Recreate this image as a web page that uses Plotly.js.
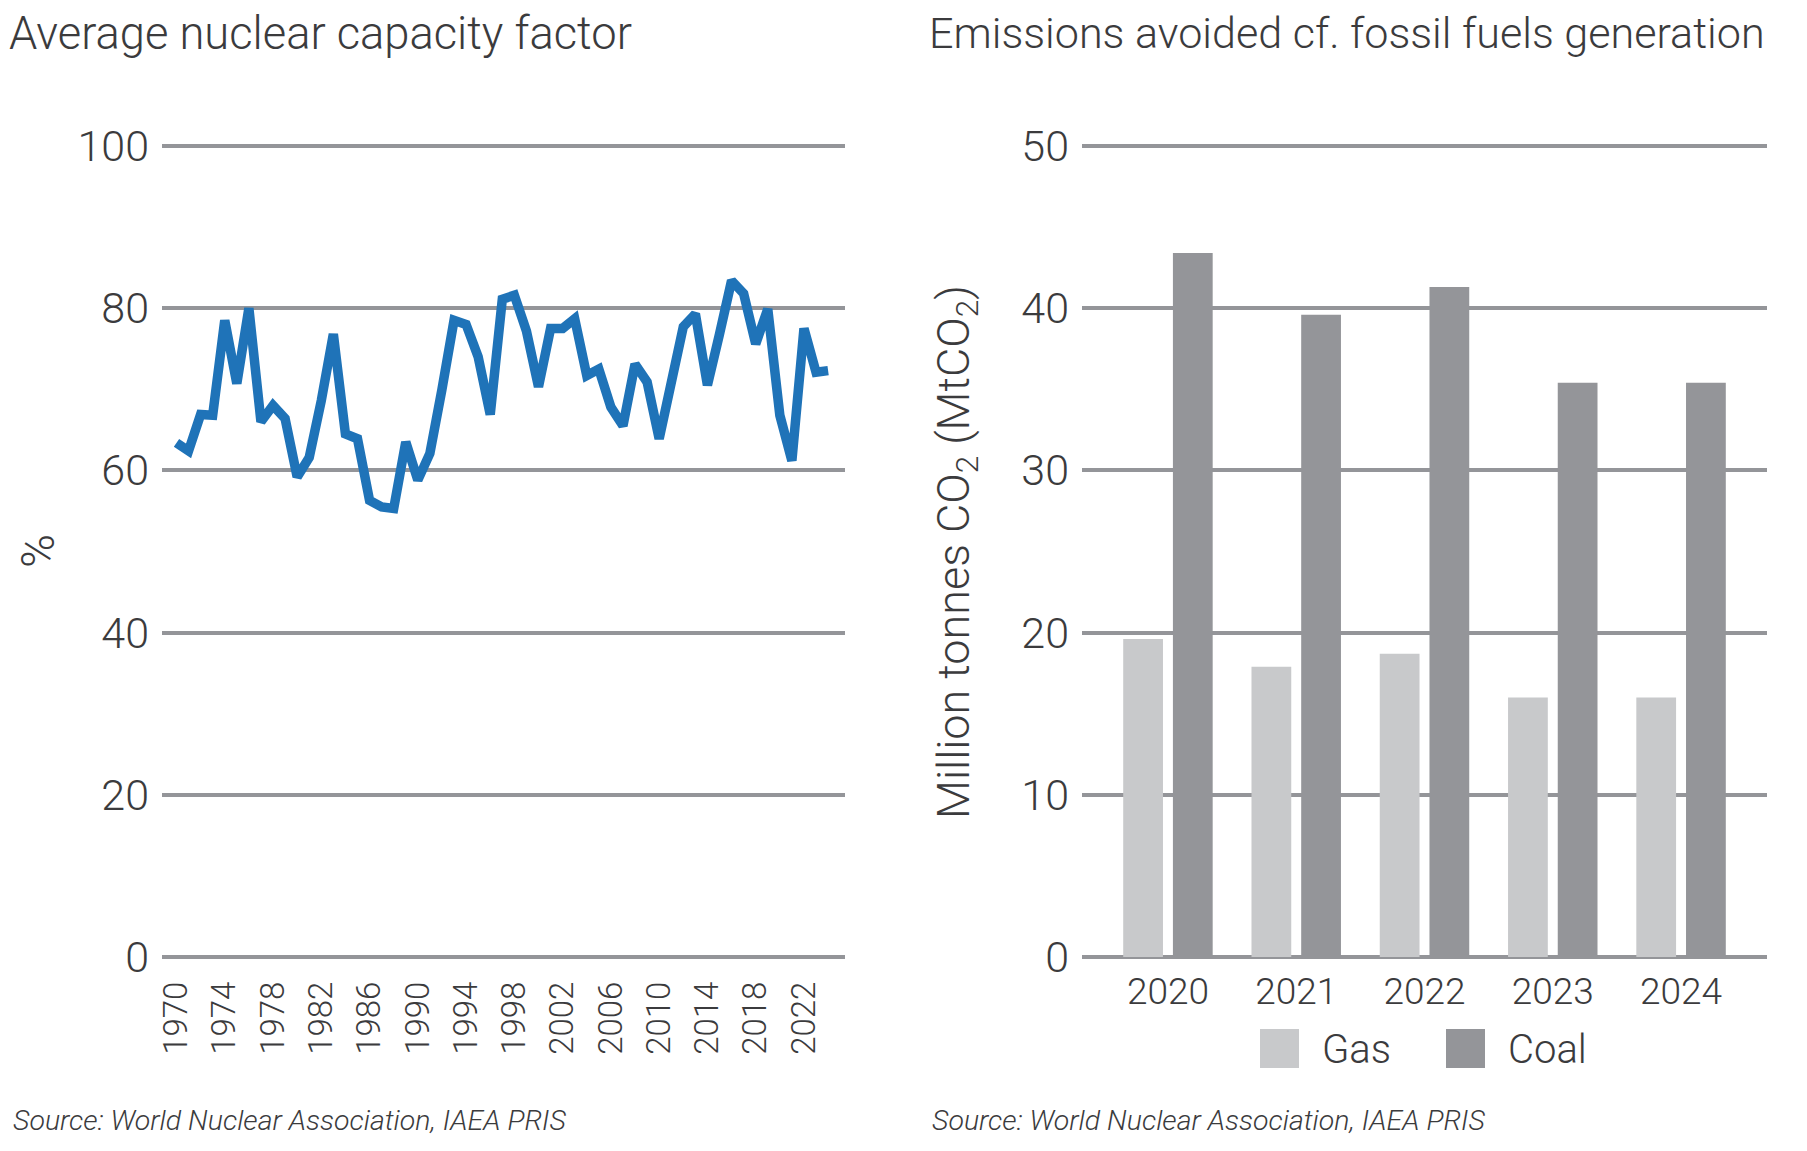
<!DOCTYPE html>
<html>
<head>
<meta charset="utf-8">
<script src="https://cdn.plot.ly/plotly-3.0.1.min.js"></script>
<style>
  html, body { margin: 0; padding: 0; background: #fff; }
  #chart { width: 1807px; height: 1151px; }
</style>
</head>
<body>
<div id="chart"></div>
<script>
"use strict";

// ── Data ────────────────────────────────────────────────────────────────
const years = [
  1970, 1971, 1972, 1973, 1974, 1975, 1976, 1977, 1978, 1979,
  1980, 1981, 1982, 1983, 1984, 1985, 1986, 1987, 1988, 1989,
  1990, 1991, 1992, 1993, 1994, 1995, 1996, 1997, 1998, 1999,
  2000, 2001, 2002, 2003, 2004, 2005, 2006, 2007, 2008, 2009,
  2010, 2011, 2012, 2013, 2014, 2015, 2016, 2017, 2018, 2019,
  2020, 2021, 2022, 2023, 2024,
];
const capacityFactor = [
  63.4, 62.4, 66.9, 66.8, 78.5, 70.7, 80.0, 66.0, 68.0, 66.4,
  59.2, 61.6, 68.6, 76.8, 64.5, 63.9, 56.3, 55.5, 55.3, 63.5,
  58.8, 62.1, 70.0, 78.5, 78.0, 74.0, 66.9, 81.1, 81.6, 77.2,
  70.3, 77.5, 77.5, 78.7, 71.7, 72.5, 67.8, 65.5, 73.1, 70.9,
  63.9, 71.5, 77.7, 79.3, 70.5, 76.8, 83.4, 81.8, 75.6, 79.9,
  66.8, 61.2, 77.5, 72.1, 72.3,
];
const yearTicks = [1970, 1974, 1978, 1982, 1986, 1990, 1994, 1998, 2002, 2006, 2010, 2014, 2018, 2022];
const pctTicks = [0, 20, 40, 60, 80, 100];

const barYears = ["2020", "2021", "2022", "2023", "2024"];
const gasAvoided = [19.6, 17.9, 18.7, 16.0, 16.0];
const coalAvoided = [43.4, 39.6, 41.3, 35.4, 35.4];
const emissionTicks = [0, 10, 20, 30, 40, 50];

// ── Style ───────────────────────────────────────────────────────────────
const W = 1807;
const H = 1151;
const FONT = "Roboto, 'Liberation Sans', sans-serif";
const TXT = "#3b3b3d";
const GRID = "#949599";
const BLUE = "#1f73b8";
const GAS = "#c8c9cb";
const COAL = "#949599";

// pixel -> paper helpers
const px = (x) => x / W;
const py = (y) => 1 - y / H;

const traces = [
  {
    type: "scatter",
    mode: "lines",
    x: years,
    y: capacityFactor,
    xaxis: "x",
    yaxis: "y",
    line: { color: BLUE, width: 9.5 },
    showlegend: false,
    hoverinfo: "x+y",
  },
  {
    type: "bar",
    name: "Gas",
    x: barYears,
    y: gasAvoided,
    xaxis: "x2",
    yaxis: "y2",
    marker: { color: GAS },
    showlegend: false,
  },
  {
    type: "bar",
    name: "Coal",
    x: barYears,
    y: coalAvoided,
    xaxis: "x2",
    yaxis: "y2",
    marker: { color: COAL },
    showlegend: false,
  },
];

// plot area: 0 at y=957px, top gridline at y=146px; range padded slightly
// above the top tick so plotly still draws that gridline
const PAD = 0.006;
const yDomain = [py(957), py(146 - 811 * PAD)];

const gridAxis = {
  showgrid: true,
  gridcolor: GRID,
  gridwidth: 4,
  zeroline: true,
  zerolinecolor: GRID,
  zerolinewidth: 4,
  showline: false,
  ticks: "",
  fixedrange: true,
};

const layout = {
  width: W,
  height: H,
  margin: { t: 0, r: 0, b: 0, l: 0 },
  paper_bgcolor: "#fff",
  plot_bgcolor: "#fff",
  font: { family: FONT, color: TXT, weight: 300 },
  showlegend: false,
  barmode: "group",
  bargap: 0.225,
  bargroupgap: 0.2,

  xaxis: {
    domain: [px(162), px(845)],
    anchor: "y",
    range: [1968.8, 2025.4],
    tickvals: yearTicks,
    ticktext: yearTicks.map(String),
    tickangle: -90,
    tickfont: { size: 33, family: FONT, color: TXT, weight: 300 },
    ticklabelstandoff: 17,
    showgrid: false,
    zeroline: false,
    ticks: "",
    fixedrange: true,
  },
  yaxis: {
    ...gridAxis,
    domain: yDomain,
    anchor: "x",
    range: [0, 100 * (1 + PAD)],
    tickvals: pctTicks,
    tickfont: { size: 43, family: FONT, color: TXT, weight: 300 },
    ticklabelstandoff: 12,
  },

  xaxis2: {
    domain: [px(1082), px(1767)],
    anchor: "y2",
    type: "category",
    range: [-0.67, 4.67],
    tickfont: { size: 37, family: FONT, color: TXT, weight: 300 },
    ticklabelstandoff: 9,
    showgrid: false,
    zeroline: false,
    ticks: "",
    fixedrange: true,
  },
  yaxis2: {
    ...gridAxis,
    domain: yDomain,
    anchor: "x2",
    range: [0, 50 * (1 + PAD)],
    tickvals: emissionTicks,
    tickfont: { size: 43, family: FONT, color: TXT, weight: 300 },
    ticklabelstandoff: 12,
  },

  // legend swatches for the bar chart
  shapes: [
    {
      type: "rect", xref: "paper", yref: "paper", layer: "above",
      x0: px(1260), x1: px(1299), y0: py(1068), y1: py(1029),
      fillcolor: GAS, line: { width: 0 },
    },
    {
      type: "rect", xref: "paper", yref: "paper", layer: "above",
      x0: px(1446), x1: px(1485), y0: py(1068), y1: py(1029),
      fillcolor: COAL, line: { width: 0 },
    },
  ],

  annotations: [
    {
      text: "Average nuclear capacity factor",
      xref: "paper", yref: "paper", x: px(7), y: py(33),
      xanchor: "left", yanchor: "middle", showarrow: false,
      font: { size: 45.3, family: FONT, color: TXT, weight: 300 },
    },
    {
      text: "Emissions avoided cf. fossil fuels generation",
      xref: "paper", yref: "paper", x: px(927), y: py(33),
      xanchor: "left", yanchor: "middle", showarrow: false,
      font: { size: 43.1, family: FONT, color: TXT, weight: 300 },
    },
    {
      text: "%",
      xref: "paper", yref: "paper", x: px(38), y: py(551),
      xanchor: "center", yanchor: "middle", showarrow: false, textangle: -90,
      font: { size: 46, family: FONT, color: TXT, weight: 300 },
    },
    {
      text: "Million tonnes CO<sub>2</sub> (MtCO<sub>2</sub>)",
      xref: "paper", yref: "paper", x: px(956), y: py(552),
      xanchor: "center", yanchor: "middle", showarrow: false, textangle: -90,
      font: { size: 45, family: FONT, color: TXT, weight: 300 },
    },
    {
      text: "Gas",
      xref: "paper", yref: "paper", x: px(1320), y: py(1049),
      xanchor: "left", yanchor: "middle", showarrow: false,
      font: { size: 40, family: FONT, color: TXT, weight: 300 },
    },
    {
      text: "Coal",
      xref: "paper", yref: "paper", x: px(1506), y: py(1049),
      xanchor: "left", yanchor: "middle", showarrow: false,
      font: { size: 40, family: FONT, color: TXT, weight: 300 },
    },
    {
      text: "<i>Source: World Nuclear Association, IAEA PRIS</i>",
      xref: "paper", yref: "paper", x: px(11), y: py(1120),
      xanchor: "left", yanchor: "middle", showarrow: false,
      font: { size: 28.5, family: FONT, color: TXT, weight: 300 },
    },
    {
      text: "<i>Source: World Nuclear Association, IAEA PRIS</i>",
      xref: "paper", yref: "paper", x: px(930), y: py(1120),
      xanchor: "left", yanchor: "middle", showarrow: false,
      font: { size: 28.5, family: FONT, color: TXT, weight: 300 },
    },
  ],
};

Plotly.newPlot("chart", traces, layout, { displayModeBar: false, staticPlot: true });
</script>
</body>
</html>
